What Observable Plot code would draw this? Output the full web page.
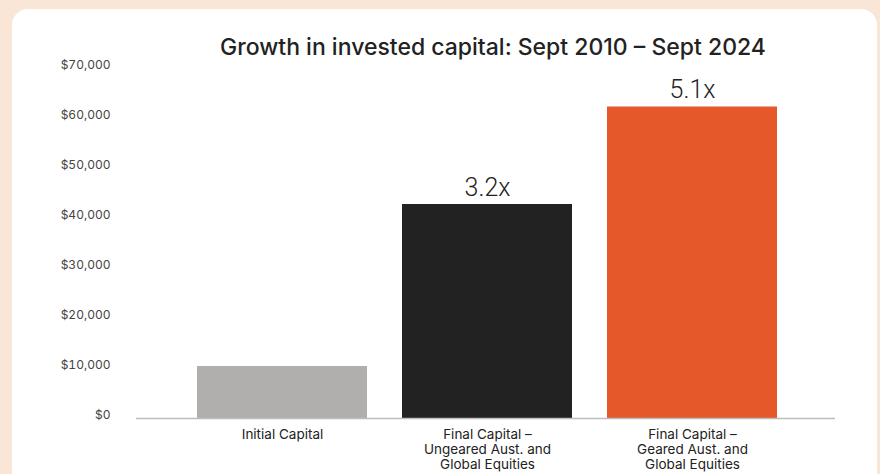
<!DOCTYPE html>
<html>
<head>
<meta charset="utf-8">
<script src="https://cdn.jsdelivr.net/npm/d3@7"></script>
<script src="https://cdn.jsdelivr.net/npm/@observablehq/plot@0.6"></script>
<style>
  html, body { margin: 0; padding: 0; width: 880px; height: 474px; overflow: hidden; background: #fae6d7; }
  #card { position: absolute; left: 12px; top: 9px; width: 865px; height: 520px; background: #ffffff; border-radius: 16px; }
  #title { position: absolute; left: 0; top: 32px; width: 986px; text-align: center; font-family: Inter, "Noto Sans", sans-serif; font-weight: 500; font-size: 23px; color: #222222; line-height: 30px; }
  #chart { position: absolute; left: 0; top: 0; }
</style>
</head>
<body>
<div id="card"></div>
<div id="title">Growth in invested capital: Sept 2010 – Sept 2024</div>
<div id="chart"></div>
<script>
const categories = ["Initial Capital", "Final Capital – Ungeared", "Final Capital – Geared"];
const categoryLabels = ["Initial Capital", "Final Capital –\nUngeared Aust. and\nGlobal Equities", "Final Capital –\nGeared Aust. and\nGlobal Equities"];
const values = [10400, 42800, 62300];
const multipliers = ["", "3.2x", "5.1x"];
const barColors = ["#b0afad", "#222222", "#e5582a"];
const yTicks = [0, 10000, 20000, 30000, 40000, 50000, 60000, 70000];

const data = categories.map((c, i) => ({cat: c, label: categoryLabels[i], value: values[i], mult: multipliers[i], color: barColors[i]}));

const chart = Plot.plot({
  width: 880,
  height: 474,
  marginTop: 68,
  marginBottom: 56,
  marginLeft: 136,
  marginRight: 45,
  style: {background: "transparent", fontFamily: "Inter, 'Noto Sans', sans-serif"},
  x: {domain: categories, padding: 0.173, insetLeft: 25, insetRight: 22, axis: null},
  y: {domain: [0, 70000], axis: null},
  marks: [
    Plot.axisY(yTicks, {
      tickSize: 0, tickPadding: 26, dy: -3,
      tickFormat: d3.format("$,"),
      fontSize: 12, fill: "#444444", label: null
    }),
    Plot.barY(data, {x: "cat", y: "value", fill: "color"}),
    Plot.ruleY([0], {stroke: "#bdbdbd", strokeWidth: 1.5}),
    Plot.text(data, {
      x: "cat", y: "value", text: "mult", dy: -9, lineAnchor: "bottom",
      fontSize: 25, fontWeight: 300, fontFamily: "Roboto, 'Liberation Sans', sans-serif", fill: "#222222"
    }),
    Plot.text(data, {
      x: "cat", y: 0, text: "label", dy: 10, lineAnchor: "top", lineHeight: 1.1,
      fontSize: 13.5, fill: "#222222"
    })
  ]
});
document.getElementById("chart").appendChild(chart);
</script>
</body>
</html>
